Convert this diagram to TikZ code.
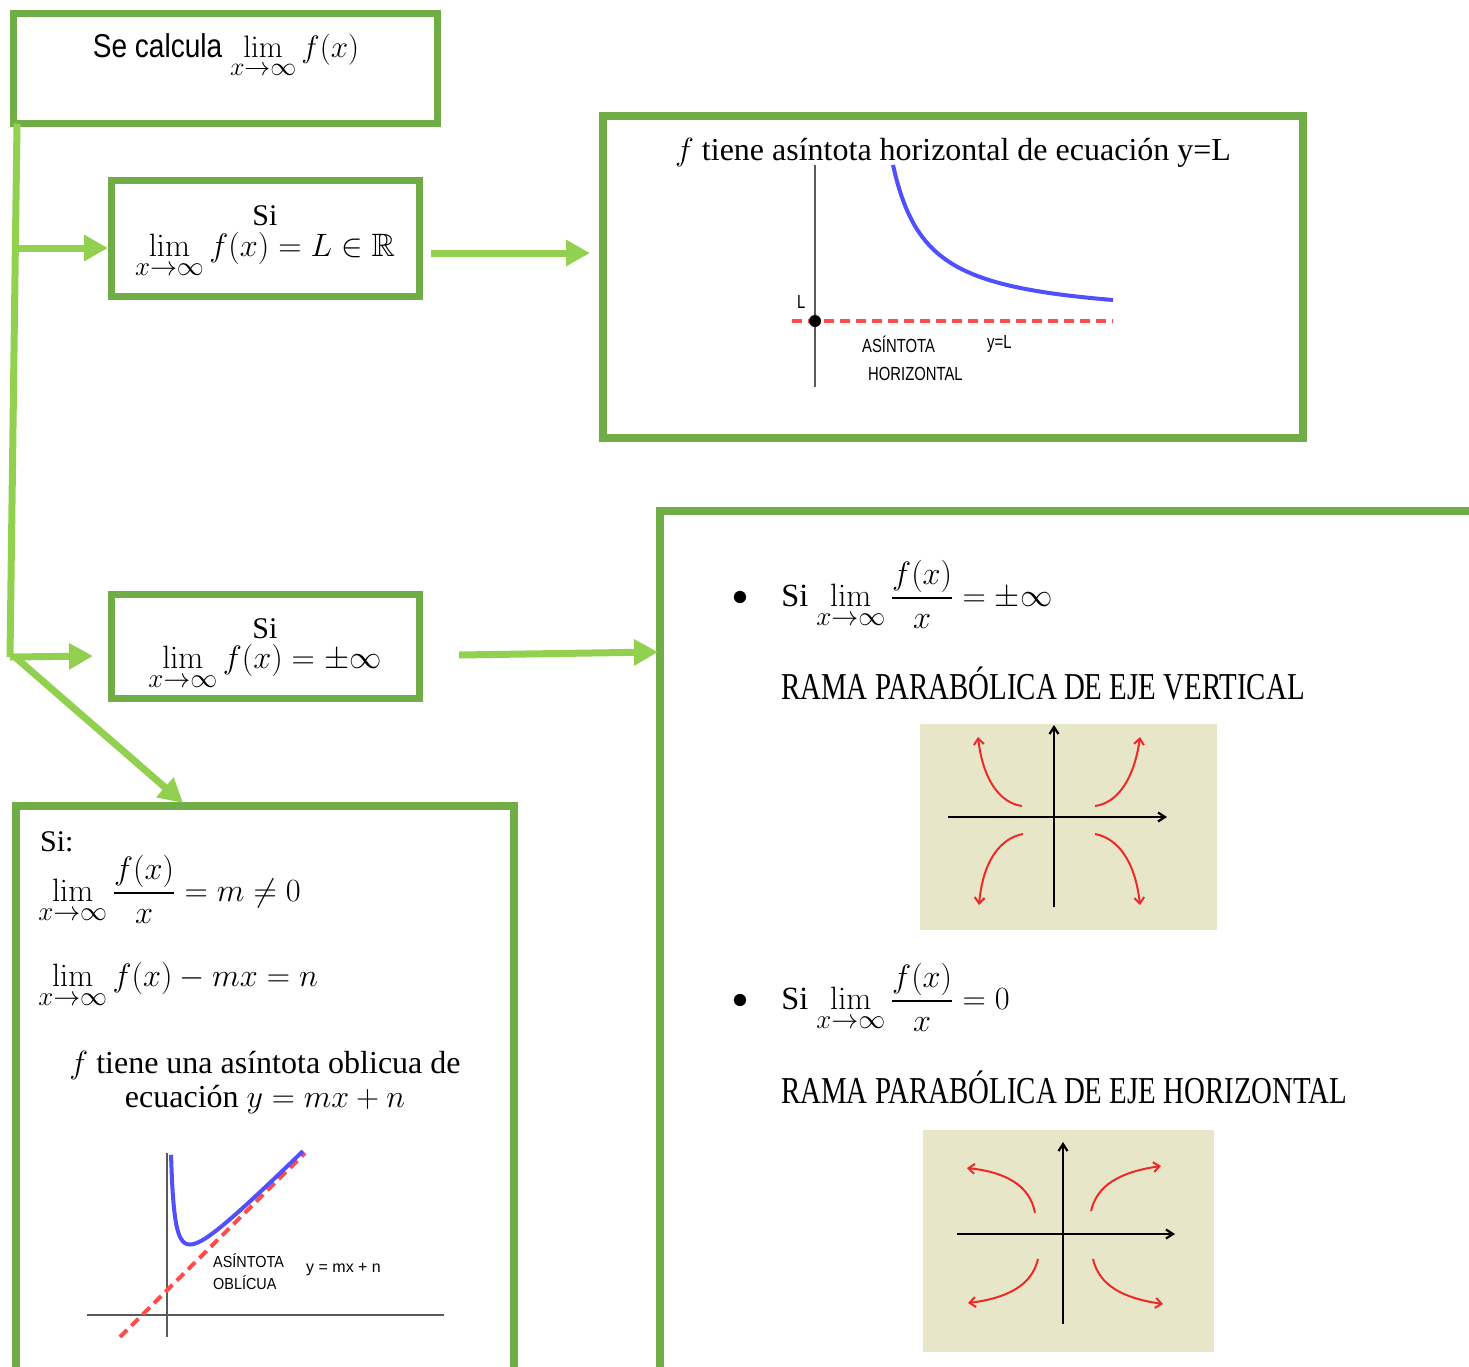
\RequirePackage{fix-cm}
\documentclass[tikz,border=0pt]{standalone}
\usepackage{amsmath,amssymb}
\usepackage[no-math]{fontspec}
\setmainfont{Liberation Serif}
\newfontfamily\narrowsans[FakeStretch=0.85]{Liberation Sans}
\newfontfamily\labsans[FakeStretch=0.78]{Liberation Sans}
\newfontfamily\labsansb[FakeStretch=0.9]{Liberation Sans}
\newfontfamily\plainsans{Liberation Sans}
\newfontfamily\ramafont[FakeStretch=0.76]{Liberation Serif}
\usetikzlibrary{arrows.meta}
\definecolor{boxgreen}{RGB}{112,173,71}
\definecolor{arrowgreen}{RGB}{146,208,80}
\definecolor{beige}{RGB}{232,230,201}
\definecolor{curveblue}{RGB}{80,80,255}
\definecolor{dashred}{RGB}{255,75,75}
\definecolor{branchred}{RGB}{240,40,40}
\newcommand{\fsz}[1]{\fontsize{#1}{#1}\selectfont}
\newcommand{\bs}{\fontsize{24.88}{24.88}\selectfont}
\tikzset{
  gbox/.style={draw=boxgreen, line width=7.5pt, outer sep=0pt, inner sep=0pt},
  garrow/.style={draw=arrowgreen, line width=7pt, -{Triangle[length=24pt,width=25pt]}},
  gline/.style={draw=arrowgreen, line width=7pt},
  txt/.style={inner sep=0pt, anchor=base},
  sc/.style={scale=#1, transform shape},
  axisgray/.style={draw=black!65, line width=1.8pt},
  reddash/.style={draw=dashred, line width=4pt, dash pattern=on 10pt off 6pt},
  bluecurve/.style={draw=curveblue, line width=4pt},
  redbranch/.style={draw=branchred, line width=2pt, -{Straight Barb[length=6pt,width=10pt]}},
  blackaxis/.style={draw=black, line width=2.2pt, -{Straight Barb[length=7pt,width=9pt]}}
}
\begin{document}
\begin{tikzpicture}[x=1pt,y=-1pt]
\useasboundingbox (0,0) rectangle (1469,1366);
\fill[white] (0,0) rectangle (1469,1366);
\clip (0,0) rectangle (1469,1366);

% ---------- boxes ----------
\node[gbox, minimum width=424pt, minimum height=110pt] (b1) at (225.5,68.5) {};
\node[gbox, minimum width=308pt, minimum height=116pt] (b2) at (265.5,238.5) {};
\node[gbox, minimum width=700pt, minimum height=322pt] (b3) at (953,277) {};
\node[gbox, minimum width=308pt, minimum height=104pt] (b4) at (265.5,646.5) {};
\node[gbox, minimum width=1000pt, minimum height=1000pt, anchor=north west] (b5) at (660,511) {};
\node[gbox, minimum width=498pt, minimum height=1000pt, anchor=north west] (b6) at (16,806) {};

% ---------- connectors ----------
\coordinate (tb) at (10,657);
\coordinate (t2) at (15.4,248);
\draw[gline] ([xshift=3.5pt]b1.south west) -- (tb);
\draw[garrow] (t2) -- ([xshift=-3.5pt,yshift=-9.5pt]b2.west);
\draw[garrow] ([xshift=11.5pt,yshift=-14.5pt]b2.east) -- ([xshift=-13pt,yshift=24pt]b3.west);
\draw[garrow] (tb) -- ([xshift=-18.5pt,yshift=-9.5pt]b4.west);
\draw[garrow] ([xshift=39.5pt,yshift=-8.5pt]b4.east) -- ([xshift=-2pt,yshift=-141pt]b5.north west);
\draw[garrow] ([xshift=5pt]tb) -- ([xshift=167pt,yshift=3pt]b6.north west);

% ---------- box 1 ----------
\node[txt, sc=1.25] (t1) at (226,57) {\bs{\narrowsans\fsz{26.4}Se calcula} $\displaystyle\lim_{x\to\infty} f(x)$};

% ---------- box 2 ----------
\node[txt] (s2) at (265,225) {\fsz{30}Si};
\node[txt, sc=1.30] (m2) at (265,256) {\bs$\displaystyle\lim_{x\to\infty} f(x)=L\in\mathbb{R}$};

% ---------- box 3 ----------
\node[txt, sc=1.286] (h3) at (953,160) {\bs$f$ tiene asíntota horizontal de ecuación y=L};
\draw[axisgray] (815,165) -- (815,387);
\draw[reddash] (792,321) -- (1113,321);
\draw[bluecurve] plot[domain=893:1113,samples=80,smooth] (\x,{321-5338/(\x-858.8)});
\fill[black] (815,321) circle (6pt);
\node[txt, anchor=base west] (lL) at (797,308) {\labsans\fsz{19}L};
\node[txt, anchor=base west] (lA) at (862,352) {\labsans\fsz{19}ASÍNTOTA};
\node[txt, anchor=base west] (lH) at (868,380) {\labsans\fsz{19}HORIZONTAL};
\node[txt, anchor=base west] (lY) at (987,348) {\labsans\fsz{19}y=L};

% ---------- box 4 ----------
\node[txt] (s4) at (265,638) {\fsz{30}Si};
\node[txt, sc=1.30] (m4) at (265,668) {\bs$\displaystyle\lim_{x\to\infty} f(x)=\pm\infty$};

% ---------- box 5 ----------
\node[inner sep=0pt, sc=1.286] (bul1) at (740,598) {\bs$\bullet$};
\node[txt, anchor=base west, sc=1.30] (r1) at (781,606) {\bs Si $\displaystyle\lim_{x\to\infty}\frac{f(x)}{x}=\pm\infty$};
\node[txt, anchor=base west] (rama1) at (781,699) {\ramafont\fsz{38}RAMA PARABÓLICA DE EJE VERTICAL};
\fill[beige] (920,724) rectangle (1217,930);
\draw[blackaxis] (948,817) -- (1167,817);
\draw[blackaxis] (1054,907) -- (1054,725);
\draw[redbranch] (1022,806) .. controls (1000,803) and (983,780) .. (978,737);
\draw[redbranch] (1095,806) .. controls (1117,803) and (1134,780) .. (1140,737);
\draw[redbranch] (1023,834) .. controls (1001,838) and (983,860) .. (979,905);
\draw[redbranch] (1095,834) .. controls (1117,838) and (1135,860) .. (1140,905);

\node[inner sep=0pt, sc=1.286] (bul2) at (740,1001) {\bs$\bullet$};
\node[txt, anchor=base west, sc=1.30] (r2) at (781,1009) {\bs Si $\displaystyle\lim_{x\to\infty}\frac{f(x)}{x}=0$};
\node[txt, anchor=base west] (rama2) at (781,1103) {\ramafont\fsz{38}RAMA PARABÓLICA DE EJE HORIZONTAL};
\fill[beige] (923,1130) rectangle (1214,1352);
\draw[blackaxis] (957,1234) -- (1175,1234);
\draw[blackaxis] (1063,1324) -- (1063,1142);
\draw[redbranch] (1035,1213) .. controls (1030,1185) and (1005,1172) .. (967,1168);
\draw[redbranch] (1091,1211) .. controls (1097,1185) and (1120,1172) .. (1161,1166);
\draw[redbranch] (1038,1259) .. controls (1032,1285) and (1008,1298) .. (968,1303);
\draw[redbranch] (1093,1259) .. controls (1099,1285) and (1122,1298) .. (1163,1304);

% ---------- box 6 ----------
\node[txt, anchor=base west] (s6) at (40,851) {\fsz{30}Si:};
\node[txt, anchor=base west, sc=1.30] (f61) at (38,901) {\bs$\displaystyle\lim_{x\to\infty}\frac{f(x)}{x}=m\neq0$};
\node[txt, anchor=base west, sc=1.30] (f62) at (38,986) {\bs$\displaystyle\lim_{x\to\infty} f(x)-mx=n$};
\node[txt, sc=1.286] (o1) at (265,1073) {\bs$f$ tiene una asíntota oblicua de};
\node[txt, sc=1.286] (o2) at (265,1107) {\bs ecuación $y=mx+n$};
\draw[axisgray] (167,1153) -- (167,1337);
\draw[axisgray] (87,1315) -- (444,1315);
\draw[reddash] (120,1337) -- (305,1153);
\draw[bluecurve] plot[domain=171:303,samples=120,smooth] (\x,{1456.4-0.995*\x-526/(\x-167)});
\node[txt, anchor=base west] (oA) at (213,1267) {\labsansb\fsz{16}ASÍNTOTA};
\node[txt, anchor=base west] (oB) at (213,1289) {\labsansb\fsz{16}OBLÍCUA};
\node[txt, anchor=base west] (oY) at (306,1272) {\plainsans\fsz{16}y = mx + n};
\end{tikzpicture}
\end{document}
